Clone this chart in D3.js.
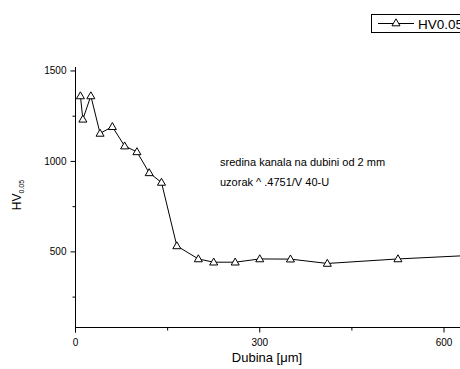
<!DOCTYPE html>
<html>
<head>
<meta charset="utf-8">
<script src="https://cdn.jsdelivr.net/npm/d3@7"></script>
<style>
body { margin: 0; background: #fff; }
svg { display: block; font-family: "Liberation Sans", Arial, sans-serif; }
</style>
</head>
<body>
<svg id="graph" width="460" height="369"></svg>
<script>
// depth in micrometres and hardness values
var depth = [8, 12, 25, 40, 60, 80, 100, 120, 140, 165, 200, 225, 260, 300, 350, 410, 525, 700]
var hv = [1362, 1233, 1362, 1155, 1192, 1085, 1053, 937, 884, 533, 461, 443, 443, 461, 460, 436, 461, 490]
var xTicks = [0, 300, 600]
var xMinor = [150, 450]
var yTicks = [500, 1000, 1500]
var yMinor = [250, 750, 1250]
var seriesName = "HV0.05"
var note = ["sredina kanala na dubini od 2 mm", "uzorak ^ .4751/V 40-U"]

var svg = d3.select("#graph")

var x = d3.scaleLinear().domain([0, 600]).range([75.5, 444])
var y = d3.scaleLinear().domain([82, 1522]).range([327.5, 67])

// plot area clip
svg.append("clipPath").attr("id", "clip")
    .append("rect").attr("x", 75).attr("y", 60).attr("width", 400).attr("height", 270)

// y axis
var yAxis = svg.append("g").attr("transform", "translate(" + x(0) + ",0)")
yAxis.append("line").attr("x1", 0).attr("x2", 0).attr("y1", y(1522)).attr("y2", y(82) + 5)
    .attr("stroke", "#000")
yAxis.selectAll(".maj").data(yTicks).enter().append("line")
    .attr("x1", -5).attr("x2", 0).attr("y1", d => y(d)).attr("y2", d => y(d)).attr("stroke", "#000")
yAxis.selectAll(".min").data(yMinor).enter().append("line")
    .attr("x1", -3).attr("x2", 0).attr("y1", d => y(d)).attr("y2", d => y(d)).attr("stroke", "#000")
yAxis.selectAll("text").data(yTicks).enter().append("text")
    .attr("x", -9).attr("y", d => y(d) + 3.5)
    .attr("text-anchor", "end").attr("font-size", 10).attr("fill", "#000")
    .text(d => d)

// x axis
var xAxis = svg.append("g").attr("transform", "translate(0," + y(82) + ")")
xAxis.append("line").attr("x1", x(0)).attr("x2", 470).attr("y1", 0).attr("y2", 0).attr("stroke", "#000")
xAxis.selectAll(".maj").data(xTicks).enter().append("line")
    .attr("x1", d => x(d)).attr("x2", d => x(d)).attr("y1", 0).attr("y2", 5).attr("stroke", "#000")
xAxis.selectAll(".min").data(xMinor).enter().append("line")
    .attr("x1", d => x(d)).attr("x2", d => x(d)).attr("y1", 0).attr("y2", 3).attr("stroke", "#000")
xAxis.selectAll("text").data(xTicks).enter().append("text")
    .attr("x", d => x(d)).attr("y", 18)
    .attr("text-anchor", "middle").attr("font-size", 10).attr("fill", "#000")
    .text(d => d)

// axis titles
svg.append("text").attr("x", 267).attr("y", 362)
    .attr("text-anchor", "middle").attr("font-size", 13).attr("fill", "#000")
    .text("Dubina [\u03bcm]")

var yt = svg.append("text").attr("transform", "translate(21,195) rotate(-90)")
    .attr("text-anchor", "middle").attr("font-size", 12).attr("fill", "#000")
yt.append("tspan").text("HV")
yt.append("tspan").attr("font-size", 7).attr("dy", 3).text("0.05")

// series
var line = d3.line().x((d, i) => x(depth[i])).y(d => y(d))
var plot = svg.append("g").attr("clip-path", "url(#clip)")
plot.append("path").datum(hv).attr("d", line)
    .attr("fill", "none").attr("stroke", "#000").attr("stroke-width", 1)

var tri = d3.symbol().type(d3.symbolTriangle).size(28)
plot.selectAll(".pt").data(hv).enter().append("path")
    .attr("d", tri)
    .attr("transform", (d, i) => "translate(" + x(depth[i]) + "," + (y(d) + 0.5) + ")")
    .attr("fill", "#fff").attr("stroke", "#000").attr("stroke-width", 1)

// annotation
svg.selectAll(".note").data(note).enter().append("text")
    .attr("x", 220).attr("y", (d, i) => 166 + i * 19.5)
    .attr("font-size", 11).attr("fill", "#000")
    .text(d => d)

// legend
var leg = svg.append("g")
leg.append("rect").attr("x", 371.5).attr("y", 14.5).attr("width", 100).attr("height", 18)
    .attr("fill", "#fff").attr("stroke", "#000")
leg.append("line").attr("x1", 378).attr("x2", 414).attr("y1", 23.5).attr("y2", 23.5).attr("stroke", "#000")
leg.append("path").attr("d", tri).attr("transform", "translate(396,23.5)")
    .attr("fill", "#fff").attr("stroke", "#000")
leg.append("text").attr("x", 418).attr("y", 28.5).attr("font-size", 13.5).attr("fill", "#000").text(seriesName)
</script>
</body>
</html>
